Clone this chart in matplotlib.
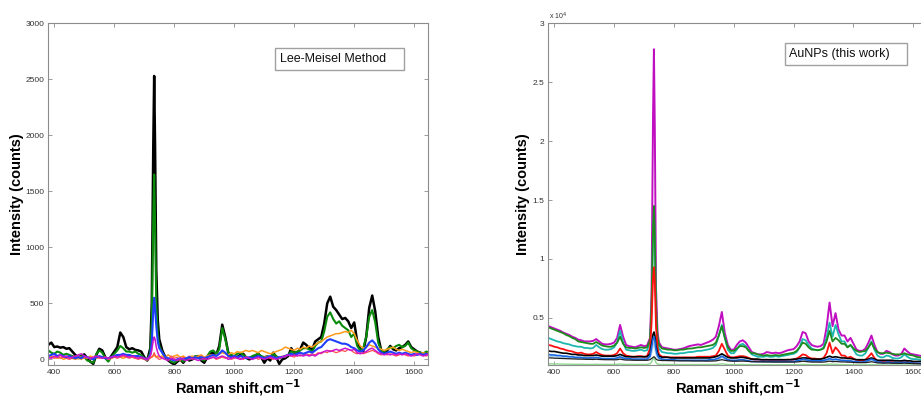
import numpy as np
import matplotlib
matplotlib.use("Agg")
import matplotlib.pyplot as plt
from matplotlib.patches import Rectangle
from matplotlib.ticker import FuncFormatter

plt.rcParams['font.family'] = ['Liberation Sans', 'DejaVu Sans']

# ---------------- data ----------------
# Raman shift sampling grid (cm^-1), shared by both panels
shift = np.concatenate([np.arange(380, 721, 10),
                        [725, 730, 733, 736, 740, 745, 750],
                        np.arange(760, 1651, 10)])

# Left panel: Lee-Meisel method (counts)
lm_black = [130, 150, 110, 115, 105, 110, 95, 100, 70, 40,
            20, 30, 45, 10, -20, -40, 40, 95, 80, 20,
            -10, 30, 70, 110, 240, 200, 110, 90, 100, 85,
            80, 70, 20, -10, 100,
            500, 1900, 2530, 1900, 800, 350, 180,
            80, 20, -10, -30, -45, -20, 0, -30, 10, -10,
            0, 20, 30, -10, -30, 20, 50, 60, 40, 120,
            310, 200, 60, 30, 25, 20, 40, 50, 15, 0,
            10, 30, 50, 20, -30, 10, -10, 60, 20, -40,
            0, 10, 30, 100, 60, 60, 90, 150, 130, 100,
            90, 160, 180, 200, 320, 500, 560, 470, 440, 400,
            360, 370, 340, 280, 330, 160, 90, 70, 200, 460,
            570, 430, 200, 80, 60, 80, 120, 90, 80, 100,
            110, 130, 160, 110, 90, 70, 60, 50, 60, 50]
lm_green = [80, 60, 50, 70, 60, 40, 50, 40, 30, 20,
            10, 30, 20, -10, -20, -30, 50, 80, 60, 10,
            -20, 20, 50, 80, 120, 100, 70, 70, 60, 70,
            50, 40, 10, -10, 60,
            350, 1250, 1650, 1200, 500, 220, 120,
            60, 20, 0, -20, -30, -10, 0, -20, 10, 0,
            10, 30, 20, 0, -10, 30, 70, 80, 50, 90,
            280, 180, 60, 40, 30, 50, 60, 40, 20, 10,
            30, 40, 50, 30, 20, 30, 20, 50, 30, 10,
            20, 30, 40, 70, 60, 70, 80, 100, 100, 90,
            70, 120, 150, 160, 250, 380, 420, 360, 320, 340,
            300, 280, 260, 200, 230, 120, 80, 100, 200, 380,
            440, 330, 150, 80, 70, 90, 110, 100, 120, 130,
            110, 120, 150, 100, 80, 70, 60, 50, 70, 60]
lm_blue = [30, 40, 50, 30, 40, 30, 20, 30, 20, 10,
           20, 10, 30, 20, 10, 0, 20, 30, 20, 10,
           10, 20, 30, 40, 40, 50, 40, 40, 30, 30,
           30, 20, 10, 0, 40,
           150, 430, 550, 460, 300, 160, 100,
           60, 20, 10, 0, -10, 0, 10, 0, 10, 20,
           10, 20, 10, 20, 10, 20, 30, 40, 30, 50,
           80, 60, 30, 20, 30, 20, 30, 20, 10, 20,
           10, 20, 30, 20, 10, 20, 30, 20, 10, 20,
           20, 30, 40, 50, 40, 50, 60, 50, 60, 70,
           60, 80, 100, 110, 140, 170, 180, 170, 160, 150,
           140, 140, 130, 110, 100, 80, 70, 80, 110, 150,
           170, 140, 90, 60, 50, 60, 70, 60, 50, 60,
           50, 60, 50, 40, 50, 40, 50, 40, 50, 40]
lm_orange = [10, 30, 20, 10, 20, 0, 10, 20, 10, 0,
             10, 0, 20, 10, 30, 20, 10, 20, 10, 20,
             0, 10, 20, 30, 20, 10, 20, 30, 20, 10,
             20, 10, 0, 10, 20,
             20, 30, 40, 30, 20, 30, 20,
             30, 20, 40, 20, 30, 40, 20, 30, 10, 20,
             30, 20, 30, 40, 20, 30, 40, 30, 40, 50,
             60, 50, 40, 60, 50, 70, 60, 70, 80, 70,
             80, 70, 60, 80, 70, 60, 50, 60, 70, 80,
             90, 110, 100, 90, 80, 100, 90, 110, 100, 120,
             110, 130, 150, 160, 180, 200, 210, 220, 230, 230,
             240, 250, 240, 260, 230, 170, 120, 100, 110, 130,
             120, 110, 100, 90, 80, 90, 100, 110, 90, 80,
             90, 80, 70, 60, 70, 60, 50, 60, 50, 60]
lm_magenta = [20, 10, 30, 20, 40, 20, 30, 10, 20, 30,
              40, 50, 30, 20, 10, 20, 30, 20, 10, 20,
              10, 20, 30, 20, 30, 40, 30, 20, 30, 20,
              10, 20, 10, 0, 30,
              80, 170, 200, 180, 110, 60, 30,
              10, 0, -10, 10, 0, -10, 10, 0, -10, 0,
              10, 0, -10, 0, 10, 0, 10, 20, 10, 20,
              30, 20, 0, 10, 20, 10, 0, 10, 20, 10,
              0, 10, 20, 10, 0, 10, 20, 10, 0, 10,
              20, 30, 40, 30, 40, 30, 40, 30, 40, 30,
              40, 30, 50, 60, 70, 80, 70, 80, 90, 80,
              90, 100, 90, 80, 90, 60, 50, 60, 70, 90,
              100, 80, 60, 50, 40, 50, 40, 50, 40, 50,
              40, 50, 40, 30, 40, 50, 40, 30, 40, 50]
lm_red = [10, 20, 10, 20, 10, 20, 10, 0, 10, 20,
          30, 20, 10, 20, 0, 10, 20, 10, 20, 10,
          0, 10, 20, 10, 20, 30, 20, 10, 20, 10,
          0, 10, 0, -10, 10,
          20, 40, 60, 40, 20, 10, 0,
          10, 20, 0, 30, 10, 20, -10, 20, 10, 30,
          0, 20, 10, 30, 0, 20, 10, 20, 0, 10,
          20, 10, 20, 0, 10, 20, 10, 0, 20, 10,
          10, 20, 0, 10, 20, 30, 10, 0, 20, 10,
          30, 20, 40, 30, 20, 40, 30, 40, 50, 40,
          50, 40, 60, 50, 70, 60, 80, 70, 60, 70,
          80, 70, 90, 80, 60, 50, 60, 50, 60, 70,
          80, 70, 50, 40, 50, 40, 50, 40, 30, 40,
          50, 40, 30, 40, 30, 40, 50, 40, 30, 40]

# Right panel: AuNPs (this work) (counts)
au_magenta = [4300, 4200, 4100, 4000, 3900, 3750, 3650, 3550, 3400, 3300,
              3150, 3100, 3000, 3000, 3000, 3050, 3200, 3000, 2800, 2750,
              2750, 2800, 2900, 3300, 4400, 3400, 2700, 2600, 2550, 2500,
              2600, 2700, 2600, 2650, 3300,
              7000, 22000, 27800, 21000, 7500, 3800, 2900,
              2500, 2450, 2400, 2350, 2300, 2300, 2350, 2400, 2500, 2600,
              2650, 2700, 2750, 2700, 2800, 2900, 3000, 3150, 3400, 4300,
              5500, 3700, 2700, 2300, 2300, 2700, 3000, 3100, 2900, 2500,
              2100, 2000, 1900, 1900, 1950, 2100, 2050, 2000, 2050, 2000,
              2050, 2150, 2250, 2300, 2350, 2600, 3000, 3800, 3700, 3000,
              2700, 2600, 2550, 2600, 2800, 4200, 6300, 4300, 5400, 4000,
              3500, 3500, 3000, 3300, 2800, 2300, 2200, 2200, 2400, 2900,
              3500, 2700, 2100, 1950, 1950, 2200, 2100, 1900, 1800, 1800,
              1950, 2400, 2150, 1950, 1900, 1850, 1800, 1750, 1700, 1650]
au_green = [4200, 4100, 4000, 3900, 3800, 3700, 3550, 3450, 3300, 3200,
            3000, 2950, 2900, 2850, 2800, 2800, 2950, 2800, 2650, 2600,
            2550, 2550, 2650, 2900, 3400, 2800, 2500, 2450, 2450, 2400,
            2450, 2500, 2450, 2500, 3100,
            6000, 12500, 14500, 12000, 6000, 3400, 2700,
            2400, 2350, 2300, 2300, 2250, 2250, 2300, 2300, 2350, 2400,
            2400, 2450, 2500, 2500, 2550, 2600, 2650, 2700, 2900, 3500,
            4300, 3300, 2500, 2200, 2200, 2400, 2600, 2600, 2500, 2200,
            2000, 2000, 1900, 1850, 1800, 1850, 1800, 1800, 1850, 1800,
            1850, 1900, 1950, 2000, 2050, 2200, 2500, 2900, 2800, 2500,
            2300, 2300, 2250, 2300, 2400, 3000, 3900, 3000, 3300, 3100,
            2800, 2800, 2500, 2700, 2400, 2200, 2100, 2150, 2200, 2500,
            2900, 2400, 2100, 2000, 2000, 2050, 2000, 1950, 1900, 1900,
            1900, 2000, 1900, 1850, 1800, 1700, 1650, 1600, 1550, 1500]
au_cyan = [3300, 3200, 3100, 3000, 2950, 2850, 2800, 2750, 2650, 2600,
           2550, 2550, 2450, 2450, 2400, 2450, 2700, 2500, 2350, 2300,
           2300, 2350, 2500, 2900, 3900, 2900, 2300, 2250, 2200, 2200,
           2250, 2300, 2200, 2250, 2900,
           5500, 12000, 14000, 11500, 5500, 3000, 2400,
           2100, 2050, 2000, 2000, 1950, 1950, 2000, 2000, 2050, 2100,
           2100, 2150, 2200, 2200, 2250, 2300, 2350, 2450, 2700, 3500,
           4400, 3300, 2300, 2000, 2000, 2300, 2700, 2800, 2600, 2200,
           1900, 1800, 1700, 1700, 1700, 1750, 1700, 1700, 1750, 1700,
           1750, 1800, 1850, 1900, 1950, 2100, 2500, 3200, 3100, 2700,
           2400, 2300, 2250, 2300, 2500, 3300, 4600, 3400, 4400, 3600,
           3000, 3000, 2500, 2700, 2300, 1900, 1800, 1800, 2000, 2500,
           3000, 2300, 1800, 1650, 1650, 1800, 1750, 1600, 1550, 1550,
           1650, 1900, 1700, 1550, 1500, 1500, 1450, 1400, 1400, 1350]
au_red = [2700, 2650, 2550, 2500, 2400, 2350, 2250, 2200, 2150, 2050,
          2000, 2050, 1950, 1900, 1900, 1950, 2100, 1950, 1850, 1800,
          1800, 1800, 1850, 2000, 2400, 2000, 1800, 1750, 1700, 1700,
          1750, 1750, 1700, 1750, 2400,
          4500, 8300, 9300, 8000, 4200, 2500, 1900,
          1700, 1700, 1650, 1650, 1650, 1650, 1650, 1650, 1650, 1650,
          1650, 1650, 1700, 1700, 1700, 1700, 1700, 1750, 1800, 2200,
          2800, 2300, 1800, 1650, 1650, 1700, 1750, 1750, 1700, 1600,
          1500, 1450, 1450, 1450, 1400, 1450, 1400, 1400, 1400, 1400,
          1400, 1400, 1450, 1450, 1450, 1550, 1700, 1900, 1850, 1650,
          1550, 1550, 1500, 1500, 1600, 2000, 2900, 2000, 2500, 2200,
          1800, 1800, 1600, 1700, 1550, 1400, 1350, 1350, 1450, 1700,
          2000, 1600, 1350, 1300, 1250, 1300, 1300, 1250, 1200, 1200,
          1250, 1300, 1250, 1200, 1150, 1150, 1100, 1100, 1100, 1050]
au_black = [2200, 2150, 2150, 2100, 2050, 2000, 2000, 1950, 1900, 1900,
            1850, 1850, 1800, 1800, 1800, 1800, 1850, 1800, 1750, 1750,
            1750, 1750, 1750, 1800, 1900, 1800, 1700, 1700, 1700, 1700,
            1700, 1700, 1700, 1700, 1950,
            2800, 3600, 3800, 3500, 2600, 2000, 1750,
            1650, 1650, 1650, 1600, 1600, 1600, 1600, 1600, 1600, 1600,
            1600, 1600, 1600, 1600, 1600, 1600, 1600, 1650, 1700, 1800,
            1950, 1800, 1650, 1600, 1600, 1600, 1650, 1650, 1600, 1550,
            1500, 1500, 1500, 1450, 1450, 1450, 1450, 1450, 1450, 1450,
            1450, 1450, 1450, 1450, 1500, 1500, 1550, 1600, 1600, 1550,
            1500, 1500, 1500, 1500, 1550, 1650, 1750, 1650, 1700, 1650,
            1600, 1600, 1550, 1550, 1500, 1450, 1450, 1450, 1450, 1500,
            1600, 1500, 1400, 1400, 1400, 1400, 1400, 1400, 1350, 1350,
            1350, 1400, 1350, 1350, 1300, 1300, 1300, 1300, 1250, 1250]
au_blue = [1900, 1850, 1850, 1800, 1800, 1750, 1750, 1700, 1700, 1650,
           1650, 1650, 1600, 1600, 1600, 1600, 1650, 1600, 1550, 1550,
           1550, 1550, 1550, 1600, 1700, 1600, 1550, 1550, 1500, 1500,
           1500, 1500, 1500, 1500, 1750,
           2500, 3200, 3400, 3100, 2300, 1800, 1600,
           1500, 1450, 1450, 1450, 1450, 1400, 1400, 1400, 1400, 1400,
           1400, 1400, 1400, 1400, 1400, 1400, 1450, 1450, 1500, 1600,
           1750, 1600, 1450, 1400, 1400, 1400, 1450, 1450, 1400, 1350,
           1300, 1300, 1300, 1300, 1300, 1300, 1300, 1300, 1300, 1300,
           1300, 1300, 1300, 1300, 1300, 1350, 1400, 1500, 1450, 1400,
           1350, 1350, 1350, 1350, 1400, 1450, 1550, 1450, 1500, 1450,
           1400, 1400, 1350, 1350, 1300, 1300, 1250, 1250, 1300, 1400,
           1500, 1400, 1250, 1250, 1200, 1250, 1250, 1200, 1200, 1200,
           1200, 1250, 1200, 1200, 1150, 1150, 1150, 1100, 1100, 1100]
au_lightblue = [1750, 1720, 1700, 1680, 1660, 1640, 1620, 1600, 1590, 1570,
                1560, 1560, 1540, 1530, 1520, 1520, 1560, 1520, 1500, 1490,
                1480, 1480, 1480, 1520, 1600, 1520, 1480, 1470, 1460, 1450,
                1450, 1460, 1450, 1450, 1600,
                2000, 2600, 2900, 2500, 1900, 1600, 1480,
                1450, 1430, 1420, 1410, 1400, 1400, 1390, 1390, 1390, 1390,
                1380, 1380, 1380, 1380, 1380, 1380, 1390, 1400, 1430, 1500,
                1620, 1520, 1400, 1370, 1360, 1360, 1380, 1380, 1360, 1320,
                1300, 1290, 1280, 1280, 1270, 1280, 1270, 1270, 1270, 1270,
                1270, 1270, 1270, 1280, 1280, 1300, 1340, 1420, 1400, 1340,
                1300, 1300, 1300, 1300, 1330, 1380, 1460, 1380, 1420, 1380,
                1340, 1340, 1300, 1300, 1260, 1240, 1220, 1220, 1250, 1320,
                1400, 1320, 1220, 1200, 1180, 1200, 1200, 1170, 1160, 1160,
                1160, 1200, 1160, 1150, 1120, 1120, 1110, 1080, 1080, 1070]
au_black2 = [1600, 1600, 1580, 1570, 1560, 1550, 1540, 1530, 1520, 1510,
             1500, 1500, 1490, 1480, 1480, 1470, 1490, 1470, 1460, 1450,
             1450, 1450, 1440, 1450, 1500, 1450, 1420, 1420, 1410, 1400,
             1400, 1400, 1400, 1400, 1450,
             1550, 1650, 1700, 1650, 1500, 1420, 1400,
             1380, 1380, 1370, 1370, 1360, 1360, 1350, 1350, 1350, 1350,
             1340, 1340, 1340, 1340, 1340, 1330, 1330, 1340, 1350, 1400,
             1450, 1400, 1350, 1330, 1320, 1320, 1330, 1330, 1320, 1300,
             1280, 1280, 1270, 1270, 1260, 1260, 1260, 1250, 1250, 1250,
             1250, 1250, 1250, 1250, 1250, 1260, 1280, 1320, 1300, 1270,
             1250, 1250, 1250, 1240, 1250, 1280, 1330, 1280, 1300, 1280,
             1260, 1260, 1240, 1240, 1220, 1200, 1200, 1200, 1200, 1230,
             1280, 1230, 1180, 1170, 1160, 1160, 1160, 1150, 1150, 1140,
             1140, 1160, 1140, 1130, 1120, 1110, 1100, 1100, 1090, 1080]
au_lightgreen = [1100, 1100, 1090, 1090, 1080, 1080, 1070, 1070, 1060, 1060,
                 1060, 1060, 1050, 1050, 1050, 1050, 1060, 1050, 1050, 1050,
                 1050, 1050, 1050, 1060, 1080, 1060, 1050, 1050, 1050, 1050,
                 1050, 1050, 1050, 1050, 1100,
                 1250, 1500, 1600, 1450, 1200, 1080, 1050,
                 1050, 1050, 1050, 1040, 1040, 1040, 1040, 1040, 1040, 1040,
                 1040, 1040, 1040, 1040, 1040, 1040, 1040, 1040, 1050, 1070,
                 1100, 1070, 1040, 1040, 1030, 1030, 1040, 1040, 1030, 1030,
                 1020, 1020, 1020, 1020, 1020, 1020, 1020, 1020, 1020, 1020,
                 1020, 1020, 1020, 1020, 1020, 1020, 1030, 1050, 1040, 1030,
                 1020, 1020, 1020, 1020, 1030, 1050, 1080, 1050, 1060, 1040,
                 1030, 1030, 1020, 1020, 1010, 1010, 1010, 1010, 1010, 1020,
                 1040, 1020, 1010, 1010, 1000, 1000, 1000, 1000, 1000, 1000,
                 1000, 1010, 1000, 1000, 1000, 1000, 1000, 1000, 1000, 1000]

x_ticks = [400, 600, 800, 1000, 1200, 1400, 1600]
left_yticks = [0, 500, 1000, 1500, 2000, 2500, 3000]
right_yticks = [5000, 10000, 15000, 20000, 25000, 30000]

# ---------------- figure ----------------
W, H = 921, 398
fig = plt.figure(figsize=(W / 100, H / 100), dpi=100)

def fx(px):
    return px / W

def fy(py):
    return 1 - py / H

ax_top, ax_bot = 23.3, 365.0
axL = fig.add_axes([fx(48.3), fy(ax_bot), 380 / W, (ax_bot - ax_top) / H])
axR = fig.add_axes([fx(548.3), fy(ax_bot), 380 / W, (ax_bot - ax_top) / H])

def style(ax):
    for s in ax.spines.values():
        s.set_color('#8c8c8c')
        s.set_linewidth(0.8)
    ax.tick_params(direction='in', length=3, width=0.6, color='#8c8c8c',
                   top=True, right=True, labelsize=6, labelcolor='#333333', pad=3)
    ax.set_xticks(x_ticks)

# Left panel
axL.plot(shift, lm_black, color='black', lw=1.8)
axL.plot(shift, lm_green, color='#0a8a0a', lw=1.5)
axL.plot(shift, lm_orange, color='#ff9a1a', lw=1.1)
axL.plot(shift, lm_red, color='#ff5050', lw=0.9)
axL.plot(shift, lm_blue, color='#1f3fff', lw=1.5)
axL.plot(shift, lm_magenta, color='#cc14cc', lw=1.1)
axL.set_xlim(380, 1647)
axL.set_ylim(-50, 3000)
axL.set_yticks(left_yticks)
style(axL)

# Right panel
axR.plot(shift, au_magenta, color='#c00fc0', lw=1.4)
axR.plot(shift, au_cyan, color='#1cb8b0', lw=1.3)
axR.plot(shift, au_green, color='#1d8a1d', lw=1.3)
axR.plot(shift, au_red, color='#ff1010', lw=1.3)
axR.plot(shift, au_lightgreen, color='#90d890', lw=1.0)
axR.plot(shift, au_black, color='black', lw=1.2)
axR.plot(shift, au_lightblue, color='#a8cff0', lw=1.0)
axR.plot(shift, au_blue, color='#1565e0', lw=1.2)
axR.plot(shift, au_black2, color='#202020', lw=0.9)
axR.set_xlim(380, 1650)
axR.set_ylim(1000, 30000)
axR.set_yticks(right_yticks)
axR.yaxis.set_major_formatter(FuncFormatter(lambda v, p: '%g' % (v / 1e4)))
style(axR)

# axis labels
lab = dict(fontsize=10.5, fontweight='bold', ha='center', va='center')
fig.text(fx(17), fy(194), 'Intensity (counts)', rotation=90, **lab)
fig.text(fx(523), fy(194), 'Intensity (counts)', rotation=90, **lab)
fig.text(fx(238), fy(388), r'Raman shift,cm$^{\mathbf{-1}}$', **lab)
fig.text(fx(738), fy(388), r'Raman shift,cm$^{\mathbf{-1}}$', **lab)
fig.text(fx(549), fy(16), r'x 10$^{4}$', fontsize=5, color='#333333',
         ha='left', va='center')

# annotation boxes
def box(ax, x0, y0, x1, y1, tx, ty, txt):
    ax.add_patch(Rectangle((x0, y0), x1 - x0, y1 - y0, transform=ax.transAxes,
                           fill=True, facecolor='white', edgecolor='#a0a0a0',
                           lw=1.0, zorder=5))
    ax.text(tx, ty, txt, transform=ax.transAxes, fontsize=9, ha='left',
            va='center', zorder=6, color='#111111')

box(axL, 0.5966, 0.8633, 0.936, 0.9277, 0.6097, 0.8955, 'Lee-Meisel Method')
box(axR, 0.6229, 0.878, 0.9439, 0.9423, 0.634, 0.910, 'AuNPs (this work)')

fig.savefig('out.png', dpi=100)
